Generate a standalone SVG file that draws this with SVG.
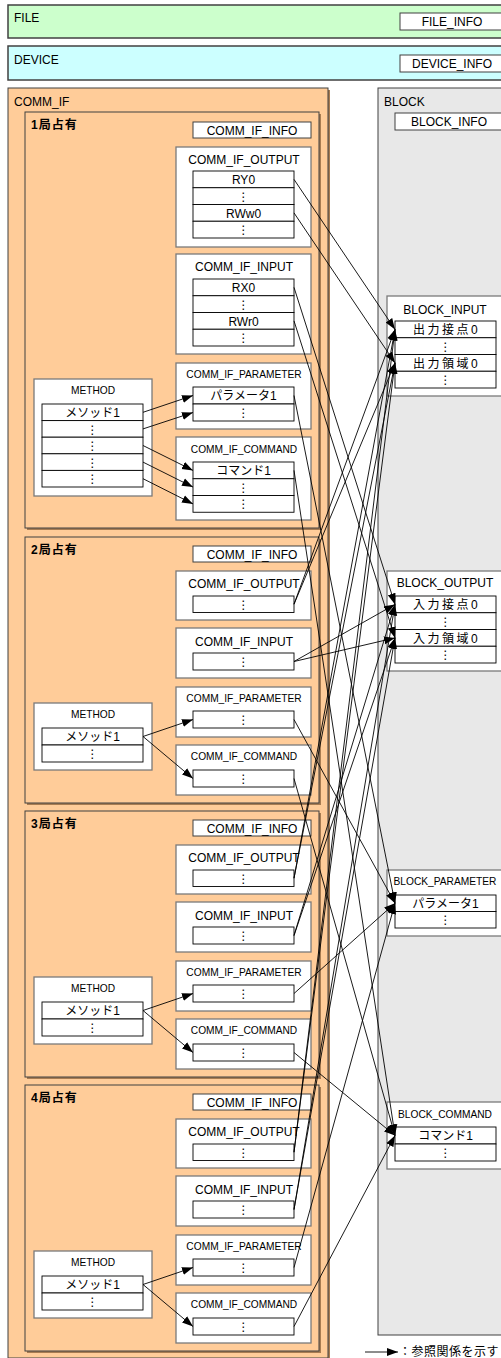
<svg xmlns="http://www.w3.org/2000/svg" width="501" height="1358" viewBox="0 0 501 1358">
<defs>
<marker id="ah" markerUnits="userSpaceOnUse" markerWidth="11" markerHeight="9" refX="11" refY="4.5" orient="auto"><path d="M0,0.5 L11,4.5 L0,8.5 z" fill="#000"/></marker>
<style>
text{font-family:"Liberation Sans","Noto Sans CJK JP","DejaVu Sans",sans-serif;font-size:12px;fill:#000}
.m{text-anchor:middle}
.s{font-size:10.2px}
.j{letter-spacing:2.5px}
.b{font-weight:bold;letter-spacing:1px}
.d{font-family:"DejaVu Sans",sans-serif;font-size:12px}
.box{fill:#fff;stroke:#7a7a7a;stroke-width:1.3}
.cell{fill:#fff;stroke:#000;stroke-width:0.9}
.sec{fill:#FFCC99;stroke:#404040;stroke-width:1}
.shd{fill:#A87C52}
.info{fill:#fff;stroke:#404040;stroke-width:1}
.ln{stroke:#000;stroke-width:0.9;fill:none;marker-end:url(#ah)}
</style>
</defs>
<rect width="501" height="1358" fill="#fff"/>

<g id="file"><rect x="8" y="5" width="510" height="33" fill="#CCFFCC" stroke="#404040" stroke-width="1.5"/><text x="14" y="22">FILE</text></g>
<g id="file-info"><rect class="info" x="400" y="13" width="110" height="17"/><text class="m" x="452" y="26">FILE_INFO</text></g>
<g id="device"><rect x="8" y="46" width="510" height="34" fill="#CCFFFF" stroke="#404040" stroke-width="1.5"/><text x="14" y="64">DEVICE</text></g>
<g id="device-info"><rect class="info" x="400" y="55" width="110" height="17"/><text class="m" x="452" y="68">DEVICE_INFO</text></g>

<g id="comm-if"><rect class="shd" x="10" y="90" width="320" height="1270"/><rect x="8" y="88" width="320" height="1270" fill="#FFCC99" stroke="#404040"/><text x="14" y="106">COMM_IF</text></g>

<g id="block"><rect x="378" y="88" width="140" height="1247" fill="#E8E8E8" stroke="#404040"/><text x="384" y="106">BLOCK</text></g>
<g id="block-info"><rect class="info" x="395" y="113" width="120" height="17"/><text class="m" x="449" y="126">BLOCK_INFO</text></g>

<g id="block-input"><rect class="box" x="387" y="296" width="120" height="100"/><text class="m" x="445" y="314">BLOCK_INPUT</text>
<rect class="cell" x="395" y="321" width="101" height="16.75"/><text class="m j" x="446.5" y="334">出力接点0</text>
<rect class="cell" x="395" y="337.75" width="101" height="16.75"/><text class="m d" x="445.5" y="350.5">⋮</text>
<rect class="cell" x="395" y="354.5" width="101" height="16.75"/><text class="m j" x="446.5" y="367.5">出力領域0</text>
<rect class="cell" x="395" y="371.25" width="101" height="16.75"/><text class="m d" x="445.5" y="384">⋮</text></g>

<g id="block-output"><rect class="box" x="387" y="571" width="120" height="100"/><text class="m" x="445" y="587">BLOCK_OUTPUT</text>
<rect class="cell" x="395" y="596" width="101" height="16.75"/><text class="m j" x="446.5" y="609">入力接点0</text>
<rect class="cell" x="395" y="612.75" width="101" height="16.75"/><text class="m d" x="445.5" y="625.5">⋮</text>
<rect class="cell" x="395" y="629.5" width="101" height="16.75"/><text class="m j" x="446.5" y="642.5">入力領域0</text>
<rect class="cell" x="395" y="646.25" width="101" height="16.75"/><text class="m d" x="445.5" y="659">⋮</text></g>

<g id="block-parameter"><rect class="box" x="387" y="870" width="120" height="66"/><text class="m s" x="445" y="885">BLOCK_PARAMETER</text>
<rect class="cell" x="395" y="895" width="101" height="16.5"/><text class="m" x="445.5" y="908">パラメータ1</text>
<rect class="cell" x="395" y="911.5" width="101" height="16.5"/><text class="m d" x="445.5" y="924">⋮</text></g>

<g id="block-command"><rect class="box" x="387" y="1102" width="120" height="67"/><text class="m s" x="445" y="1118">BLOCK_COMMAND</text>
<rect class="cell" x="395" y="1127" width="101" height="17"/><text class="m" x="445.5" y="1140">コマンド1</text>
<rect class="cell" x="395" y="1144" width="101" height="17"/><text class="m d" x="445.5" y="1157">⋮</text></g>

<!-- Section 1 -->
<g id="sec1"><rect class="shd" x="27" y="114" width="294" height="416"/><rect class="sec" x="25" y="112" width="294" height="416"/><text class="b" x="31" y="129">1局占有</text></g>
<g id="s1-info"><rect class="info" x="193" y="122" width="118" height="16"/><text class="m" x="252" y="135">COMM_IF_INFO</text></g>
<g id="s1-output"><rect class="box" x="176" y="147" width="135" height="100"/><text class="m" x="244" y="164">COMM_IF_OUTPUT</text>
<rect class="cell" x="193" y="171" width="101" height="16.75"/><text class="m" x="243.5" y="184">RY0</text>
<rect class="cell" x="193" y="187.75" width="101" height="16.75"/><text class="m d" x="243.5" y="200.5">⋮</text>
<rect class="cell" x="193" y="204.5" width="101" height="16.75"/><text class="m" x="243.5" y="217.5">RWw0</text>
<rect class="cell" x="193" y="221.25" width="101" height="16.75"/><text class="m d" x="243.5" y="234">⋮</text></g>
<g id="s1-input"><rect class="box" x="176" y="254" width="135" height="100"/><text class="m" x="244" y="271">COMM_IF_INPUT</text>
<rect class="cell" x="193" y="279" width="101" height="16.75"/><text class="m" x="243.5" y="292">RX0</text>
<rect class="cell" x="193" y="295.75" width="101" height="16.75"/><text class="m d" x="243.5" y="308.5">⋮</text>
<rect class="cell" x="193" y="312.5" width="101" height="16.75"/><text class="m" x="243.5" y="325.5">RWr0</text>
<rect class="cell" x="193" y="329.25" width="101" height="16.75"/><text class="m d" x="243.5" y="342">⋮</text></g>
<g id="s1-parameter"><rect class="box" x="176" y="363" width="135" height="66"/><text class="m s" x="244" y="378">COMM_IF_PARAMETER</text>
<rect class="cell" x="193" y="387" width="101" height="17"/><text class="m" x="243.5" y="400">パラメータ1</text>
<rect class="cell" x="193" y="404" width="101" height="17"/><text class="m d" x="243.5" y="417">⋮</text></g>
<g id="s1-command"><rect class="box" x="176" y="437" width="135" height="83"/><text class="m s" x="244" y="453">COMM_IF_COMMAND</text>
<rect class="cell" x="193" y="462" width="101" height="16.75"/><text class="m" x="243.5" y="475">コマンド1</text>
<rect class="cell" x="193" y="478.75" width="101" height="16.75"/><text class="m d" x="243.5" y="491.5">⋮</text>
<rect class="cell" x="193" y="495.5" width="101" height="16.75"/><text class="m d" x="243.5" y="508">⋮</text></g>
<g id="s1-method"><rect class="box" x="34" y="379" width="118" height="117"/><text class="m s" x="93" y="394">METHOD</text>
<rect class="cell" x="42" y="404" width="101" height="16.6"/><text class="m" x="92.5" y="417">メソッド1</text>
<rect class="cell" x="42" y="420.6" width="101" height="16.6"/><text class="m d" x="92.5" y="433.5">⋮</text>
<rect class="cell" x="42" y="437.2" width="101" height="16.6"/><text class="m d" x="92.5" y="450">⋮</text>
<rect class="cell" x="42" y="453.8" width="101" height="16.6"/><text class="m d" x="92.5" y="466.5">⋮</text>
<rect class="cell" x="42" y="470.4" width="101" height="16.6"/><text class="m d" x="92.5" y="483">⋮</text></g>

<!-- Section 2 -->
<g id="sec2"><rect class="shd" x="27" y="539" width="294" height="266"/><rect class="sec" x="25" y="537" width="294" height="266"/><text class="b" x="31" y="554">2局占有</text></g>
<g id="s2-info"><rect class="info" x="193" y="546" width="118" height="16"/><text class="m" x="252" y="559">COMM_IF_INFO</text></g>
<g id="s2-output"><rect class="box" x="176" y="571" width="135" height="49"/><text class="m" x="244" y="588">COMM_IF_OUTPUT</text><rect class="cell" x="193" y="596" width="101" height="16.5"/><text class="m d" x="243.5" y="608.5">⋮</text></g>
<g id="s2-input"><rect class="box" x="176" y="628" width="135" height="50"/><text class="m" x="244" y="645.5">COMM_IF_INPUT</text><rect class="cell" x="193" y="653" width="101" height="17"/><text class="m d" x="243.5" y="666">⋮</text></g>
<g id="s2-parameter"><rect class="box" x="176" y="687" width="135" height="50"/><text class="m s" x="244" y="702">COMM_IF_PARAMETER</text><rect class="cell" x="193" y="711" width="101" height="17"/><text class="m d" x="243.5" y="724">⋮</text></g>
<g id="s2-command"><rect class="box" x="176" y="745" width="135" height="50"/><text class="m s" x="244" y="760">COMM_IF_COMMAND</text><rect class="cell" x="193" y="770" width="101" height="17"/><text class="m d" x="243.5" y="783">⋮</text></g>
<g id="s2-method"><rect class="box" x="34" y="703" width="118" height="67"/><text class="m s" x="93" y="718">METHOD</text><rect class="cell" x="42" y="728" width="101" height="17"/><text class="m" x="92.5" y="741">メソッド1</text><rect class="cell" x="42" y="745" width="101" height="17"/><text class="m d" x="92.5" y="758">⋮</text></g>

<!-- Section 3 -->
<g transform="translate(0,274)">
<g id="sec3"><rect class="shd" x="27" y="539" width="294" height="266"/><rect class="sec" x="25" y="537" width="294" height="266"/><text class="b" x="31" y="554">3局占有</text></g>
<g id="s3-info"><rect class="info" x="193" y="546" width="118" height="16"/><text class="m" x="252" y="559">COMM_IF_INFO</text></g>
<g id="s3-output"><rect class="box" x="176" y="571" width="135" height="49"/><text class="m" x="244" y="588">COMM_IF_OUTPUT</text><rect class="cell" x="193" y="596" width="101" height="16.5"/><text class="m d" x="243.5" y="608.5">⋮</text></g>
<g id="s3-input"><rect class="box" x="176" y="628" width="135" height="50"/><text class="m" x="244" y="645.5">COMM_IF_INPUT</text><rect class="cell" x="193" y="653" width="101" height="17"/><text class="m d" x="243.5" y="666">⋮</text></g>
<g id="s3-parameter"><rect class="box" x="176" y="687" width="135" height="50"/><text class="m s" x="244" y="702">COMM_IF_PARAMETER</text><rect class="cell" x="193" y="711" width="101" height="17"/><text class="m d" x="243.5" y="724">⋮</text></g>
<g id="s3-command"><rect class="box" x="176" y="745" width="135" height="50"/><text class="m s" x="244" y="760">COMM_IF_COMMAND</text><rect class="cell" x="193" y="770" width="101" height="17"/><text class="m d" x="243.5" y="783">⋮</text></g>
<g id="s3-method"><rect class="box" x="34" y="703" width="118" height="67"/><text class="m s" x="93" y="718">METHOD</text><rect class="cell" x="42" y="728" width="101" height="17"/><text class="m" x="92.5" y="741">メソッド1</text><rect class="cell" x="42" y="745" width="101" height="17"/><text class="m d" x="92.5" y="758">⋮</text></g>
</g>

<!-- Section 4 -->
<g transform="translate(0,548)">
<g id="sec4"><rect class="shd" x="27" y="539" width="294" height="266"/><rect class="sec" x="25" y="537" width="294" height="266"/><text class="b" x="31" y="554">4局占有</text></g>
<g id="s4-info"><rect class="info" x="193" y="546" width="118" height="16"/><text class="m" x="252" y="559">COMM_IF_INFO</text></g>
<g id="s4-output"><rect class="box" x="176" y="571" width="135" height="49"/><text class="m" x="244" y="588">COMM_IF_OUTPUT</text><rect class="cell" x="193" y="596" width="101" height="16.5"/><text class="m d" x="243.5" y="608.5">⋮</text></g>
<g id="s4-input"><rect class="box" x="176" y="628" width="135" height="50"/><text class="m" x="244" y="645.5">COMM_IF_INPUT</text><rect class="cell" x="193" y="653" width="101" height="17"/><text class="m d" x="243.5" y="666">⋮</text></g>
<g id="s4-parameter"><rect class="box" x="176" y="687" width="135" height="50"/><text class="m s" x="244" y="702">COMM_IF_PARAMETER</text><rect class="cell" x="193" y="711" width="101" height="17"/><text class="m d" x="243.5" y="724">⋮</text></g>
<g id="s4-command"><rect class="box" x="176" y="745" width="135" height="50"/><text class="m s" x="244" y="760">COMM_IF_COMMAND</text><rect class="cell" x="193" y="770" width="101" height="17"/><text class="m d" x="243.5" y="783">⋮</text></g>
<g id="s4-method"><rect class="box" x="34" y="703" width="118" height="67"/><text class="m s" x="93" y="718">METHOD</text><rect class="cell" x="42" y="728" width="101" height="17"/><text class="m" x="92.5" y="741">メソッド1</text><rect class="cell" x="42" y="745" width="101" height="17"/><text class="m d" x="92.5" y="758">⋮</text></g>
</g>

<g id="connectors">
<!-- method -> param/command -->
<line class="ln" x1="143" y1="412.3" x2="193" y2="395.5"/>
<line class="ln" x1="143" y1="428.9" x2="193" y2="412.5"/>
<line class="ln" x1="143" y1="445.5" x2="193" y2="470.4"/>
<line class="ln" x1="143" y1="462.1" x2="193" y2="487.1"/>
<line class="ln" x1="143" y1="478.7" x2="193" y2="503.9"/>
<line class="ln" x1="143" y1="736.5" x2="193" y2="719.5"/>
<line class="ln" x1="143" y1="736.5" x2="193" y2="778.5"/>
<line class="ln" x1="143" y1="1010.5" x2="193" y2="993.5"/>
<line class="ln" x1="143" y1="1010.5" x2="193" y2="1052.5"/>
<line class="ln" x1="143" y1="1284.5" x2="193" y2="1267.5"/>
<line class="ln" x1="143" y1="1284.5" x2="193" y2="1326.5"/>
<!-- section 1 -> block -->
<line class="ln" x1="294" y1="179.4" x2="395" y2="329.4"/>
<line class="ln" x1="294" y1="212.9" x2="395" y2="362.9"/>
<line class="ln" x1="294" y1="287.4" x2="395" y2="604.4"/>
<line class="ln" x1="294" y1="320.9" x2="395" y2="637.9"/>
<line class="ln" x1="294" y1="395.5" x2="395" y2="903.2"/>
<line class="ln" x1="294" y1="470.4" x2="395" y2="1135.5"/>
<!-- section 2 -> block -->
<line class="ln" x1="294" y1="604.2" x2="395" y2="329.4"/>
<line class="ln" x1="294" y1="604.2" x2="395" y2="362.9"/>
<line class="ln" x1="294" y1="661.5" x2="395" y2="604.4"/>
<line class="ln" x1="294" y1="661.5" x2="395" y2="637.9"/>
<line class="ln" x1="294" y1="719.5" x2="395" y2="903.2"/>
<line class="ln" x1="294" y1="778.5" x2="395" y2="1135.5"/>
<!-- section 3 -> block -->
<line class="ln" x1="294" y1="878.2" x2="395" y2="329.4"/>
<line class="ln" x1="294" y1="878.2" x2="395" y2="362.9"/>
<line class="ln" x1="294" y1="935.5" x2="395" y2="604.4"/>
<line class="ln" x1="294" y1="935.5" x2="395" y2="637.9"/>
<line class="ln" x1="294" y1="993.5" x2="395" y2="903.2"/>
<line class="ln" x1="294" y1="1052.5" x2="395" y2="1135.5"/>
<!-- section 4 -> block -->
<line class="ln" x1="294" y1="1152.2" x2="395" y2="329.4"/>
<line class="ln" x1="294" y1="1152.2" x2="395" y2="362.9"/>
<line class="ln" x1="294" y1="1209.5" x2="395" y2="604.4"/>
<line class="ln" x1="294" y1="1209.5" x2="395" y2="637.9"/>
<line class="ln" x1="294" y1="1267.5" x2="395" y2="903.2"/>
<line class="ln" x1="294" y1="1326.5" x2="395" y2="1135.5"/>
</g>

<g id="legend"><line class="ln" x1="365" y1="1352" x2="398" y2="1352"/><text x="399" y="1356" font-size="12.8" letter-spacing="0.5">：参照関係を示す</text></g>
</svg>
